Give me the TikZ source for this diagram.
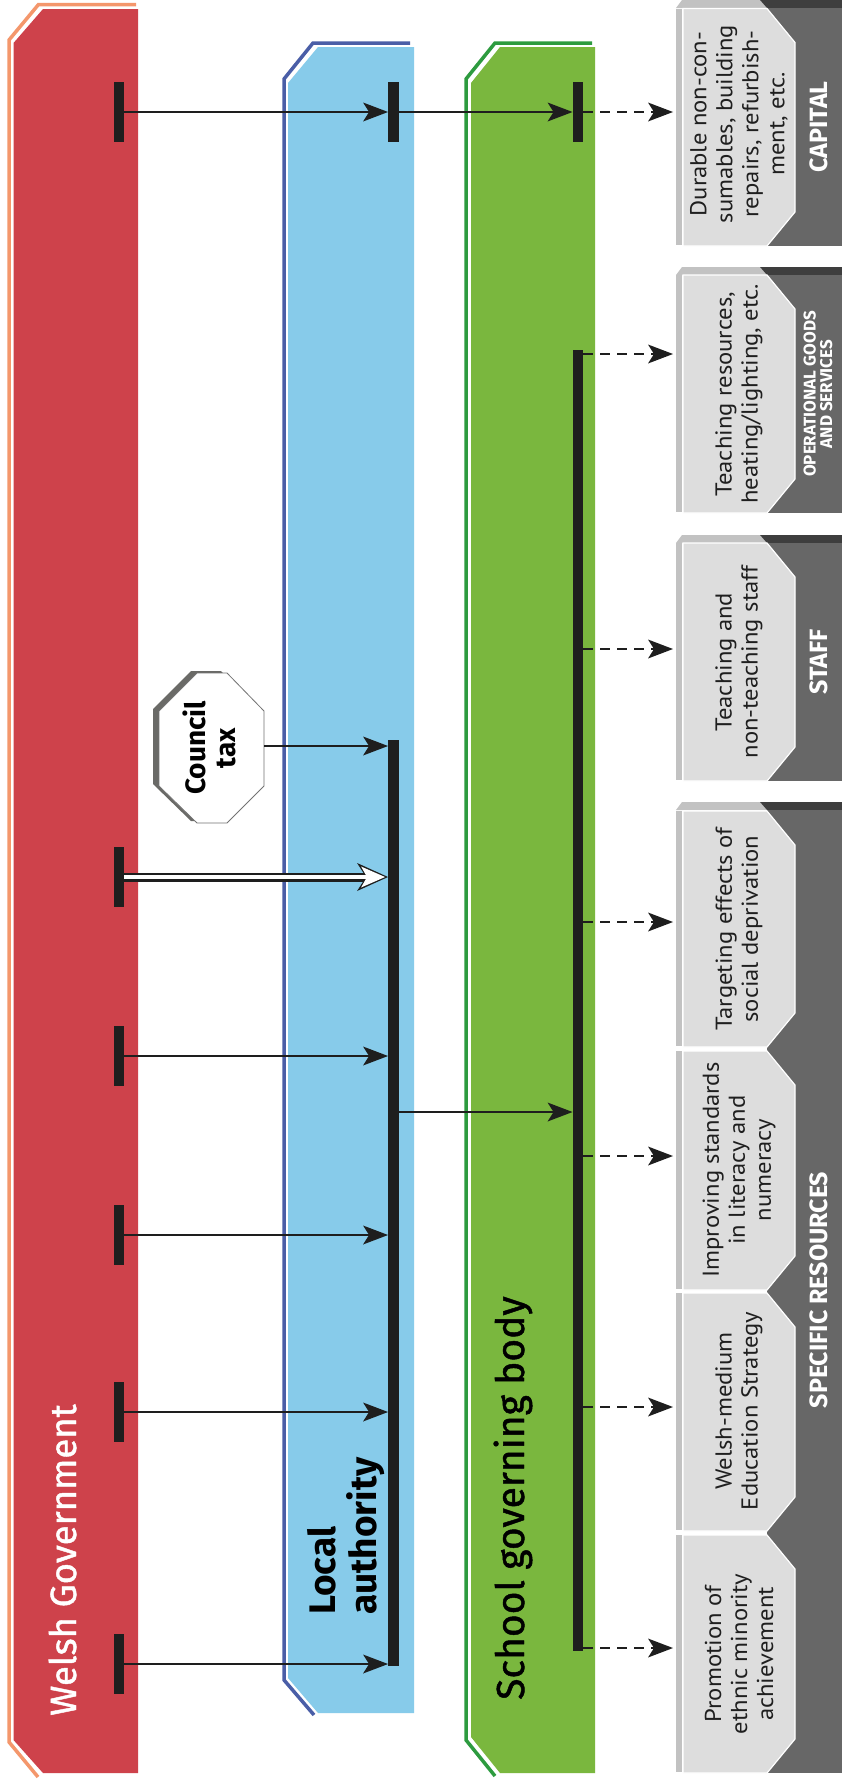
\documentclass[tikz,border=0pt]{standalone}
\usepackage{fontspec}
\setmainfont{PT Sans}
\newfontfamily\bigf{Fira Sans}
\newfontfamily\wgmed{Fira Sans}[FakeBold=1.2]
\newfontfamily\facef{PT Sans}[FakeStretch=1.07]
\usetikzlibrary{arrows.meta,calc}
\definecolor{wgred}{HTML}{CE424B}
\definecolor{wgorange}{HTML}{F4976C}
\definecolor{lablue}{HTML}{87CBEA}
\definecolor{laoutline}{HTML}{4A5EA7}
\definecolor{sggreen}{HTML}{7AB73E}
\definecolor{sgoutline}{HTML}{2D9B3F}
\definecolor{barc}{HTML}{1E1E1E}
\definecolor{faceg}{HTML}{DDDDDD}
\definecolor{sideg}{HTML}{C2C2C2}
\definecolor{labelg}{HTML}{676767}
\definecolor{topdark}{HTML}{3E3E3E}
\definecolor{shadowg}{HTML}{6A6A67}
\newcommand{\rsgroup}[2]{%
  \fill[sideg] (676,#1+8) -- (682,#1) -- (760,#1) -- (767,#1+8) -- cycle;
  \fill[topdark] (760,#1) -- (842,#1) -- (842,#1+8) -- (767,#1+8) -- cycle;
  \fill[labelg] (767,#1+8) rectangle (842,#2);}
\newcommand{\rsface}[2]{%
  \fill[sideg] (676,#1) rectangle (682,#2-1);
  \filldraw[fill=faceg, draw=white, line width=1.2pt] (683,#1) -- (767,#1) -- (795,#1+34) -- (795,#2-34) -- (767,#2) -- (683,#2) -- cycle;}
\begin{document}
\begin{tikzpicture}[x=1pt,y=-1pt,
  bar/.style={rectangle, fill=barc, inner sep=0pt, minimum width=10.5pt},
  arr/.style={draw=barc, line width=2.4pt, -{Stealth[length=25pt,width=19pt,inset=6pt,line width=0pt]}},
  darr/.style={arr, dash pattern=on 10pt off 7pt},
  facetext/.style={rotate=90, align=center, inner sep=0pt, text=black!88, font=\facef\fontsize{23}{26}\selectfont},
  labeltext/.style={rotate=90, align=center, inner sep=0pt, text=white, font=\bigf\bfseries\fontsize{25}{26}\selectfont},
  bandlabel/.style={rotate=90, inner sep=0pt},
]
\useasboundingbox (0,0) rectangle (842,1780);
\fill[white] (0,0) rectangle (842,1780);

% ---- bands ----
\fill[wgred] (13.5,43) -- (43,9) -- (138,9) -- (138,1773) -- (43,1773) -- (13.5,1740) -- cycle;
\draw[wgorange, line width=3.5pt] (136,4.5) -- (38.5,4.5) -- (9,40) -- (9,1742) -- (38,1777);
\fill[lablue] (288,83) -- (318,47) -- (414,47) -- (414,1713) -- (318,1713) -- (288,1678) -- cycle;
\draw[laoutline, line width=3.5pt] (410,43) -- (313,43) -- (284,79) -- (284,1680) -- (314,1715);
\fill[sggreen] (471,83) -- (500,47) -- (595,47) -- (595,1773) -- (500,1773) -- (471,1737) -- cycle;
\draw[sgoutline, line width=3.5pt] (592,43) -- (495,43) -- (466,79) -- (466,1740) -- (495,1776);

% ---- band labels ----
\node[bandlabel, anchor=base west, text=white, font=\wgmed\fontsize{36.5}{40}\selectfont] (wgl) at (76,1716) {Welsh Government};
\node[bandlabel, anchor=north west, align=left, text=black, font=\bigf\bfseries\fontsize{37}{41}\selectfont] (lal) at (307,1615) {Local\\authority};
\node[bandlabel, anchor=base west, text=black, font=\wgmed\fontsize{39}{44}\selectfont] (sgl) at (524,1700) {School governing body};

% ---- council tax ----
\fill[shadowg, shift={(-6,-2)}] (197,673) -- (227,673) -- (264,711) -- (264,786) -- (227,823) -- (197,823) -- (159,786) -- (159,711) -- cycle;
\filldraw[fill=white, draw=black!55, line width=0.8pt] (197,673) -- (227,673) -- (264,711) -- (264,786) -- (227,823) -- (197,823) -- (159,786) -- (159,711) -- cycle;
\node[rotate=90, align=center, inner sep=0pt, font=\bigf\bfseries\fontsize{28}{30}\selectfont] (ct) at (209,748) {Council\\tax};
\coordinate (cte) at (264,746);

% ---- bars ----
\node[bar, minimum height=60pt] (wg1) at (119,112) {};
\node[bar, minimum height=60pt] (wg2) at (119,877) {};
\node[bar, minimum height=60pt] (wg3) at (119,1056) {};
\node[bar, minimum height=60pt] (wg4) at (119,1235) {};
\node[bar, minimum height=60pt] (wg5) at (119,1412) {};
\node[bar, minimum height=60pt] (wg6) at (119,1664) {};
\node[bar, minimum height=60pt] (la1) at (393.5,112) {};
\node[bar, minimum height=926pt] (lab) at (393.5,1203) {};
\node[bar, minimum height=60pt] (sg1) at (578,112) {};
\node[bar, minimum height=1301pt] (sgb) at (578,1000.5) {};

% ---- target coordinates ----
\coordinate (t1) at (673,112);
\coordinate (t2) at (673,354);
\coordinate (t3) at (673,649);
\coordinate (t4) at (673,922);
\coordinate (t5) at (673,1156);
\coordinate (t6) at (673,1407);
\coordinate (t7) at (673,1648);
\coordinate (lay) at (0,1112);

% ---- arrows ----
\draw[arr] (wg1.east) -- (la1.west);
\draw[arr] (la1.east) -- (sg1.west);
\draw[darr] (sg1.east) -- (t1);
\draw[barc, line width=9pt, -{Stealth[length=31pt,width=28pt,inset=9pt,line width=0pt]}] (wg2.east) -- (wg2.east -| lab.west);
\draw[white, line width=4.5pt, shorten >=3pt, -{Stealth[length=24pt,width=21pt,inset=6pt,line width=0pt]}] (wg2.east) -- (wg2.east -| lab.west);
\draw[arr] (wg3.east) -- (wg3.east -| lab.west);
\draw[arr] (wg4.east) -- (wg4.east -| lab.west);
\draw[arr] (wg5.east) -- (wg5.east -| lab.west);
\draw[arr] (wg6.east) -- (wg6.east -| lab.west);
\draw[arr] (cte) -- (cte -| lab.west);
\draw[arr] (lab.east |- lay) -- (sgb.west |- lay);
\draw[darr] (sgb.east |- t2) -- (t2);
\draw[darr] (sgb.east |- t3) -- (t3);
\draw[darr] (sgb.east |- t4) -- (t4);
\draw[darr] (sgb.east |- t5) -- (t5);
\draw[darr] (sgb.east |- t6) -- (t6);
\draw[darr] (sgb.east |- t7) -- (t7);

% ---- right boxes ----
\rsgroup{0}{246}
\rsface{8.5}{246}
\rsgroup{267}{513}
\rsface{275}{513}
\rsgroup{535}{781}
\rsface{543}{781}
\rsgroup{802}{1773}
\rsface{811}{1047}
\rsface{1051}{1290}
\rsface{1293}{1531}
\rsface{1535}{1773}

\node[facetext] (f1) at (739,124) {Durable non-con-\\sumables, building\\repairs, refurbish-\\ment, etc.};
\node[facetext] (f2) at (739,394) {Teaching resources,\\heating/lighting, etc.};
\node[facetext] (f3) at (739,662) {Teaching and\\non-teaching staff};
\node[facetext] (f4) at (739,929) {Targeting effects of\\social deprivation};
\node[facetext] (f5) at (739,1170) {Improving standards\\in literacy and\\numeracy};
\node[facetext] (f6) at (739,1411) {Welsh-medium\\Education Strategy};
\node[facetext] (f7) at (739,1654) {Promotion of\\ethnic minority\\achievement};

\node[labeltext] (l1) at (819,127) {CAPITAL};
\node[labeltext, font=\bigf\bfseries\fontsize{17}{16.5}\selectfont] (l2) at (818,394) {OPERATIONAL GOODS\\AND SERVICES};
\node[labeltext] (l3) at (819,662) {STAFF};
\node[labeltext] (l4) at (819,1290) {SPECIFIC RESOURCES};
\end{tikzpicture}
\end{document}
